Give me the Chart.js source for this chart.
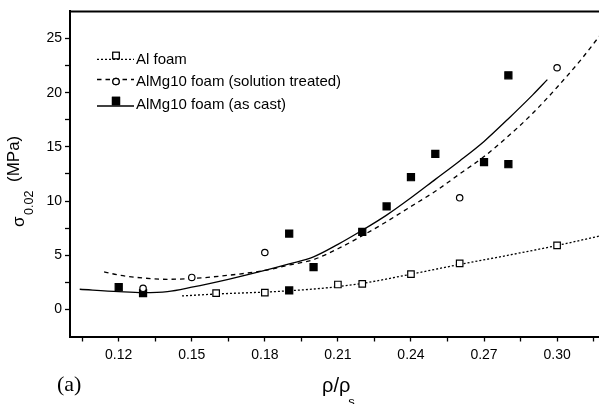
<!DOCTYPE html>
<html><head><meta charset="utf-8">
<script src="https://cdn.jsdelivr.net/npm/chart.js@4"></script>
<style>html,body{margin:0;padding:0;background:#fff;overflow:hidden;width:599px;height:404px}canvas{display:block}</style>
</head><body>
<canvas id="c" width="612" height="404"></canvas>
<script>
// ---- data ----
const seriesNames = ["Al foam", "AlMg10 foam (solution treated)", "AlMg10 foam (as cast)"];

const alX = [0.16, 0.18, 0.21, 0.22, 0.24, 0.26, 0.30];
const alY = [1.5, 1.55, 2.3, 2.35, 3.25, 4.25, 5.9];

const stX = [0.13, 0.15, 0.18, 0.26, 0.30];
const stY = [1.95, 2.95, 5.25, 10.3, 22.3];

const acX = [0.12, 0.13, 0.19, 0.19, 0.20, 0.22, 0.23, 0.24, 0.25, 0.27, 0.28, 0.28];
const acY = [2.05, 1.5, 7.0, 1.75, 3.9, 7.15, 9.5, 12.2, 14.35, 13.6, 13.4, 21.6];

// fitted curves
const alFitX = [0.146, 0.16, 0.18, 0.19, 0.20, 0.21, 0.22, 0.24, 0.26, 0.28, 0.30, 0.318];
const alFitY = [1.24, 1.42, 1.6, 1.72, 1.88, 2.1, 2.4, 3.25, 4.15, 5.0, 5.9, 6.8];

const stFitX = [0.114, 0.12, 0.13, 0.14, 0.15, 0.165, 0.18, 0.19, 0.20, 0.21, 0.22, 0.23, 0.24, 0.25, 0.26, 0.27, 0.28, 0.29, 0.30, 0.31, 0.318];
const stFitY = [3.47, 3.17, 2.9, 2.78, 2.85, 3.15, 3.6, 4.1, 4.6, 5.6, 6.8, 8.1, 9.5, 10.9, 12.5, 14.1, 16.0, 18.1, 20.5, 23.1, 25.4];

const acFitX = [0.104, 0.12, 0.13, 0.14, 0.15, 0.165, 0.18, 0.19, 0.20, 0.21, 0.22, 0.23, 0.24, 0.25, 0.26, 0.27, 0.28, 0.29, 0.296];
const acFitY = [1.86, 1.64, 1.55, 1.64, 2.05, 2.78, 3.6, 4.2, 4.85, 6.0, 7.3, 8.7, 10.3, 12.0, 13.7, 15.5, 17.6, 19.8, 21.2];

const xMajorTicks = [0.12, 0.15, 0.18, 0.21, 0.24, 0.27, 0.30];
const xTickLabels = ["0.12", "0.15", "0.18", "0.21", "0.24", "0.27", "0.30"];
const xMinorTicks = [0.105, 0.135, 0.165, 0.195, 0.225, 0.255, 0.285, 0.315];
const yMajorTicks = [0, 5, 10, 15, 20, 25];
const yTickLabels = ["0", "5", "10", "15", "20", "25"];
const yMinorTicks = [2.5, 7.5, 12.5, 17.5, 22.5];

// ---- build chart ----
const pts = (xs, ys) => xs.map((x, i) => ({x: x, y: ys[i]}));
const SANS = "'Liberation Sans', Arial, sans-serif";
const styles = [
  {dash: [2, 2], point: 'rect', radius: 4.6, fill: '#fff'},
  {dash: [4.5, 4], point: 'circle', radius: 3.2, fill: '#fff'},
  {dash: [], point: 'rect', radius: 5, fill: '#000'}
];

function scatterSet(i, xs, ys) {
  return {label: seriesNames[i], data: pts(xs, ys), showLine: false,
    pointStyle: styles[i].point, pointRadius: styles[i].radius,
    pointBackgroundColor: styles[i].fill, pointBorderColor: '#000', pointBorderWidth: 1.2, order: 0};
}
function fitSet(i, xs, ys) {
  return {label: seriesNames[i] + ' fit', data: pts(xs, ys), showLine: true, pointRadius: 0,
    borderColor: '#000', borderWidth: 1.3, borderDash: styles[i].dash,
    cubicInterpolationMode: 'monotone', fill: false, order: 1};
}

function tickLabel(value, majors, labels) {
  for (let i = 0; i < majors.length; i++) if (Math.abs(majors[i] - value) < 1e-6) return labels[i];
  return '';
}

const decor = {
  id: 'decor',
  afterDraw(chart) {
    const ctx = chart.ctx, a = chart.chartArea;
    ctx.save();
    // top frame line
    ctx.strokeStyle = '#000'; ctx.lineWidth = 2;
    ctx.beginPath(); ctx.moveTo(a.left, a.top); ctx.lineTo(a.right, a.top); ctx.stroke();

    // legend
    const rows = [
      {line: 59.3, text: 59.5, mark: 55.5},
      {line: 79.5, text: 82, mark: 81.5},
      {line: 106, text: 104.5, mark: 101}
    ];
    ctx.font = '15px ' + SANS; ctx.fillStyle = '#000'; ctx.textBaseline = 'middle'; ctx.textAlign = 'left';
    rows.forEach((r, i) => {
      ctx.setLineDash(styles[i].dash); ctx.lineWidth = 1.3;
      ctx.beginPath(); ctx.moveTo(97, r.line); ctx.lineTo(134, r.line); ctx.stroke();
      ctx.setLineDash([]);
      ctx.lineWidth = 1.2;
      Chart.helpers.drawPoint(ctx, {pointStyle: styles[i].point, radius: styles[i].radius, borderWidth: 1.2}, 116, r.mark);
      ctx.fillStyle = styles[i].fill; ctx.fill(); ctx.stroke();
      ctx.fillStyle = '#000';
      ctx.fillText(seriesNames[i], 136, r.text);
    });

    // y title  σ0.02 (MPa)
    ctx.textBaseline = 'alphabetic'; ctx.textAlign = 'left';
    ctx.save(); ctx.translate(24, 227); ctx.rotate(-Math.PI / 2);
    ctx.font = '17px ' + SANS; ctx.fillText('σ', 0, 0); ctx.restore();
    ctx.save(); ctx.translate(33, 215); ctx.rotate(-Math.PI / 2);
    ctx.font = '12.5px ' + SANS; ctx.fillText('0.02', 0, 0); ctx.restore();
    ctx.save(); ctx.translate(19, 182); ctx.rotate(-Math.PI / 2);
    ctx.font = '17px ' + SANS; ctx.fillText('(MPa)', 0, 0); ctx.restore();

    // x title ρ/ρs
    ctx.font = '20px ' + SANS; ctx.fillText('ρ/ρ', 322, 392);
    const w = ctx.measureText('ρ/ρ').width;
    ctx.font = '13px ' + SANS; ctx.fillText('s', 322 + w - 2, 406);

    // panel label
    ctx.font = '22px "Liberation Serif", "Times New Roman", serif'; ctx.fillText('(a)', 57, 391);
    ctx.restore();
  }
};

new Chart(document.getElementById('c'), {
  type: 'scatter',
  data: {datasets: [
    scatterSet(0, alX, alY), scatterSet(1, stX, stY), scatterSet(2, acX, acY),
    fitSet(0, alFitX, alFitY), fitSet(1, stFitX, stFitY), fitSet(2, acFitX, acFitY)
  ]},
  options: {
    responsive: false, animation: false, devicePixelRatio: 1,
    layout: {padding: {top: 11, right: 6, left: 0, bottom: 0}},
    plugins: {legend: {display: false}, tooltip: {enabled: false}},
    scales: {
      x: {
        type: 'linear', min: 0.10, max: 0.32,
        afterBuildTicks: s => { s.ticks = xMinorTicks.concat(xMajorTicks).sort((p, q) => p - q).map(v => ({value: v})); },
        afterFit: s => { s.height = 67.5; },
        ticks: {autoSkip: false, maxRotation: 0, padding: 5, color: '#000', font: {family: SANS, size: 14},
          callback: v => tickLabel(v, xMajorTicks, xTickLabels)},
        grid: {drawOnChartArea: false, drawTicks: true, tickLength: 5, tickColor: '#000', tickWidth: 1.3},
        border: {display: true, color: '#000', width: 2}
      },
      y: {
        type: 'linear', min: -2.5, max: 27.5,
        afterBuildTicks: s => { s.ticks = yMinorTicks.concat(yMajorTicks).sort((p, q) => p - q).map(v => ({value: v})); },
        afterFit: s => { s.width = 70; },
        ticks: {autoSkip: false, padding: 3, color: '#000', font: {family: SANS, size: 14},
          callback: v => tickLabel(v, yMajorTicks, yTickLabels)},
        grid: {drawOnChartArea: false, drawTicks: true, tickLength: 5, tickColor: '#000', tickWidth: 1.3},
        border: {display: true, color: '#000', width: 2}
      }
    }
  },
  plugins: [decor]
});
</script>
</body></html>
